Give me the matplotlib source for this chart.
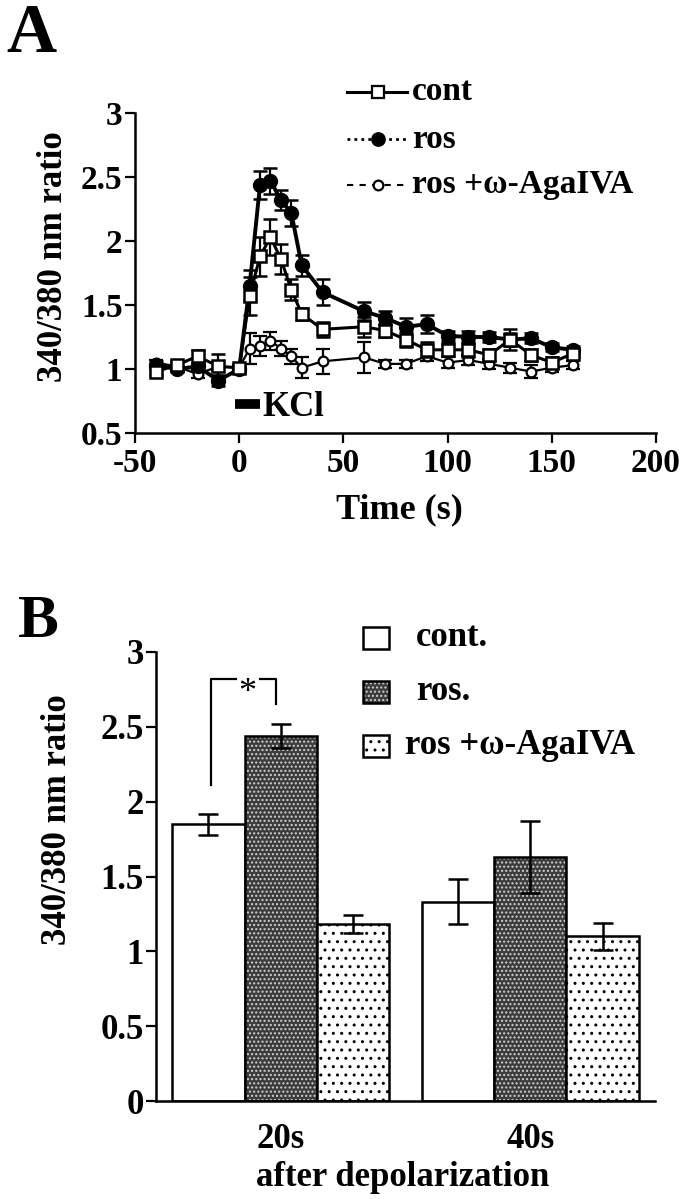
import matplotlib
matplotlib.use("Agg")
import matplotlib.pyplot as plt
from matplotlib.lines import Line2D
from matplotlib.patches import Rectangle
import numpy as np

plt.rcParams['font.family'] = ['Liberation Serif', 'DejaVu Serif']
plt.rcParams['font.weight'] = 'bold'
plt.rcParams['hatch.linewidth'] = 1.0
plt.rcParams['axes.unicode_minus'] = False

# ---- panel A data: time course of 340/380 ratio ----
time_s = [-40, -30, -20, -10, 0, 5, 10, 15, 20, 25, 30, 40, 60, 70, 80, 90,
          100, 110, 120, 130, 140, 150, 160]
cont = [0.98, 1.03, 1.10, 1.02, 1.01, 1.57, 1.88, 2.03, 1.86, 1.62, 1.43, 1.31,
        1.33, 1.30, 1.23, 1.15, 1.15, 1.15, 1.11, 1.23, 1.11, 1.05, 1.12]
cont_err = [0.03, 0.03, 0.05, 0.10, 0.03, 0.15, 0.15, 0.14, 0.12, 0.08, 0.05, 0.06,
            0.08, 0.05, 0.06, 0.06, 0.05, 0.06, 0.05, 0.08, 0.05, 0.04, 0.03]
ros = [1.03, 1.00, 1.02, 0.91, 1.00, 1.65, 2.44, 2.47, 2.32, 2.22, 1.81, 1.60,
       1.45, 1.40, 1.33, 1.35, 1.26, 1.25, 1.25, 1.23, 1.24, 1.17, 1.15]
ros_err = [0.03, 0.02, 0.03, 0.04, 0.02, 0.12, 0.11, 0.10, 0.08, 0.10, 0.08, 0.10,
           0.07, 0.05, 0.07, 0.07, 0.04, 0.05, 0.04, 0.05, 0.04, 0.03, 0.03]
aga = [1.05, 1.02, 0.96, 1.02, 1.01, 1.16, 1.18, 1.22, 1.16, 1.10, 1.01, 1.06,
       1.09, 1.04, 1.04, 1.10, 1.05, 1.07, 1.04, 1.01, 0.98, 1.01, 1.03]
aga_err = [0.02, 0.02, 0.03, 0.03, 0.02, 0.12, 0.08, 0.07, 0.06, 0.06, 0.08, 0.10,
           0.12, 0.03, 0.03, 0.04, 0.04, 0.04, 0.04, 0.04, 0.05, 0.03, 0.03]
kcl_start, kcl_end, kcl_y = -2, 10, 0.73

# ---- panel B data: bars at 20 s and 40 s ----
groups = ['20s', '40s']
cont_mean = [1.85, 1.33]
cont_sem = [0.07, 0.15]
ros_mean = [2.44, 1.63]
ros_sem = [0.08, 0.24]
aga_mean = [1.18, 1.10]
aga_sem = [0.06, 0.09]

W, H = 680, 1199
fig = plt.figure(figsize=(W / 100, H / 100), dpi=100)


def fx(x):
    return x / W


def fy(y):
    return 1 - y / H


# ================= panel A =================
axA = fig.add_axes([fx(135), fy(433), (656 - 135) / W, (433 - 113) / H])

axA.errorbar(time_s, aga, yerr=aga_err, color='k', lw=1.6, marker='o', ms=7,
             mfc='white', mec='k', mew=1.6, capsize=5, elinewidth=1.6,
             capthick=1.8, zorder=3)
axA.errorbar(time_s, ros, yerr=ros_err, color='k', lw=2.8, marker='o', ms=10,
             mfc='k', mec='k', capsize=5, elinewidth=1.6, capthick=1.8, zorder=4)
axA.errorbar(time_s, cont, yerr=cont_err, color='k', lw=2.2, marker='s', ms=9,
             mfc='white', mec='k', mew=1.8, capsize=5, elinewidth=1.6,
             capthick=1.8, zorder=5)

axA.plot([kcl_start, kcl_end], [kcl_y, kcl_y], color='k', lw=7,
         solid_capstyle='butt')
axA.text(kcl_end + 1, kcl_y - 0.03, 'KCl', fontsize=25, va='center', ha='left')

axA.set_xlim(-50, 200)
axA.set_ylim(0.5, 3)
axA.set_xticks([-50, 0, 50, 100, 150, 200])
axA.set_yticks([0.5, 1, 1.5, 2, 2.5, 3])
axA.set_yticklabels(['0.5', '1', '1.5', '2', '2.5', '3'])
axA.spines['top'].set_visible(False)
axA.spines['right'].set_visible(False)
for s in ['left', 'bottom']:
    axA.spines[s].set_linewidth(1.8)
axA.tick_params(direction='out', length=7, width=1.6, labelsize=24, pad=2)
axA.tick_params(axis='x', pad=4)
axA.set_xlabel('Time (s)', fontsize=26, fontweight='bold')
axA.xaxis.set_label_coords(0.507, -0.24)
axA.xaxis.label.set_va('center')
axA.set_ylabel('340/380 nm ratio', fontsize=25, fontweight='bold')
axA.yaxis.set_label_coords(-0.157, 0.55)
axA.yaxis.label.set_va('center')

# legend A (drawn by hand)
legA = [
    ('cont', '-', 2.2, 's', 'white', 8, 91.7),
    ('ros', (0, (1, 1.5)), 2.0, 'o', 'k', 9, 139.3),
    ('ros +\u03c9-AgaIVA', (0, (3, 3)), 1.5, 'o', 'white', 7, 185.0),
]
for name, ls, lw, mk, mfc, ms, ypx in legA:
    fig.add_artist(Line2D([fx(347), fx(407)], [fy(ypx), fy(ypx)], color='k',
                          ls=ls, lw=lw, transform=fig.transFigure))
    fig.add_artist(Line2D([fx(378)], [fy(ypx)], marker=mk, ms=ms, mfc=mfc,
                          mec='k', mew=1.6, ls='none', transform=fig.transFigure))
    fig.text(fx(412), fy(ypx), name, fontsize=24, va='center', ha='left')

fig.text(fx(31), fy(52), 'A', fontsize=50, va='baseline', ha='center')

# ================= panel B =================
axB = fig.add_axes([fx(156), fy(1101), (655 - 156) / W, (1101 - 652) / H])
x = np.arange(len(groups))
w = 0.29

ebkw = dict(ecolor='k', elinewidth=1.8, capsize=7, capthick=1.8)
axB.bar(x - w, cont_mean, w, color='white', edgecolor='k', lw=1.8, zorder=2)
axB.errorbar(x - w, cont_mean, yerr=cont_sem, fmt='none', zorder=3, **ebkw)

axB.bar(x, ros_mean, w, color='#3c3c3c', edgecolor='#d0d0d0', hatch='....',
        lw=0, zorder=2)
axB.bar(x, ros_mean, w, fill=False, edgecolor='k', lw=1.8, zorder=2)
axB.errorbar(x, ros_mean, yerr=ros_sem, fmt='none', zorder=3, **ebkw)

axB.bar(x + w, aga_mean, w, color='white', edgecolor='k', hatch='..',
        lw=1.8, zorder=2)
axB.errorbar(x + w, aga_mean, yerr=aga_sem, fmt='none', zorder=3, **ebkw)

# significance bracket
bl, br = x[0] - w + 0.01, x[0] - 0.02
axB.plot([bl, bl, -0.178], [2.11, 2.82, 2.82], color='k', lw=1.6)
axB.plot([-0.084, br, br], [2.82, 2.82, 2.65], color='k', lw=1.6)
axB.text(-0.133, 2.83, '*', fontsize=26, fontweight='normal', ha='center',
         va='top')

axB.set_xlim(-0.5, 1.5)
axB.set_ylim(0, 3)
axB.set_xticks(x)
axB.set_xticklabels(groups)
axB.set_yticks([0, 0.5, 1, 1.5, 2, 2.5, 3])
axB.set_yticklabels(['0', '0.5', '1', '1.5', '2', '2.5', '3'])
axB.spines['top'].set_visible(False)
axB.spines['right'].set_visible(False)
for s in ['left', 'bottom']:
    axB.spines[s].set_linewidth(1.8)
axB.tick_params(axis='y', direction='out', length=7, width=1.6, labelsize=25,
                pad=2)
axB.tick_params(axis='x', length=0, labelsize=25, pad=16)
axB.set_xlabel('after depolarization', fontsize=25, fontweight='bold')
axB.xaxis.set_label_coords(0.495, -0.171)
axB.xaxis.label.set_va('center')
axB.set_ylabel('340/380 nm ratio', fontsize=25, fontweight='bold')
axB.yaxis.set_label_coords(-0.198, 0.626)
axB.yaxis.label.set_va('center')

# legend B (drawn by hand)
legB = [
    ('cont.', dict(facecolor='white'), 638, 416),
    ('ros.', dict(facecolor='#3c3c3c'), 692, 416),
    ('ros +\u03c9-AgaIVA', dict(facecolor='white', hatch='..'), 746, 405),
]
for name, kw, ypx, tx in legB:
    if name == 'ros.':
        fig.add_artist(Rectangle((fx(363), fy(ypx + 11)), 26 / W, 22 / H,
                                 edgecolor='#d0d0d0', lw=0, hatch='....',
                                 transform=fig.transFigure, **kw))
        fig.add_artist(Rectangle((fx(363), fy(ypx + 11)), 26 / W, 22 / H,
                                 fill=False, edgecolor='k', lw=1.8,
                                 transform=fig.transFigure))
    else:
        fig.add_artist(Rectangle((fx(363), fy(ypx + 11)), 26 / W, 22 / H,
                                 edgecolor='k', lw=1.8,
                                 transform=fig.transFigure, **kw))
    fig.text(fx(tx), fy(ypx), name, fontsize=25, va='center', ha='left')

fig.text(fx(38), fy(637), 'B', fontsize=44, va='baseline', ha='center')

fig.savefig('out.png', dpi=100, facecolor='white')
